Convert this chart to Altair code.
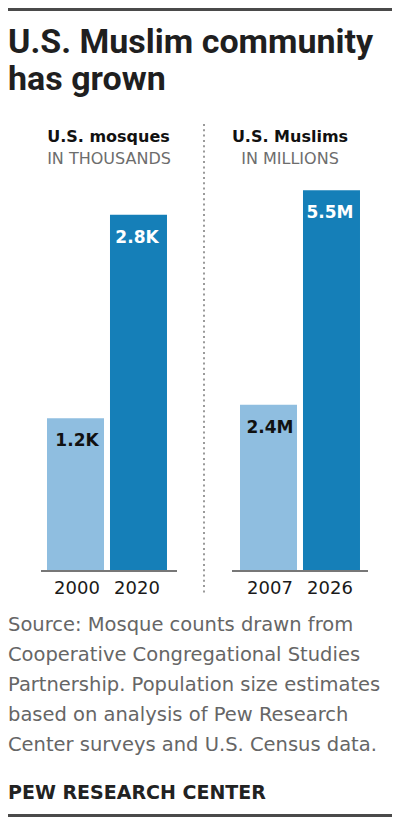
import altair as alt
import pandas as pd

# ---- data -------------------------------------------------------------
TITLE_LINES = ["U.S. Muslim community", "has grown"]

MOSQUE_YEARS = ["2000", "2020"]
MOSQUE_VALUES = [1.2, 2.8]          # thousands
MOSQUE_LABELS = ["1.2K", "2.8K"]

MUSLIM_YEARS = ["2007", "2026"]
MUSLIM_VALUES = [2.4, 5.5]          # millions
MUSLIM_LABELS = ["2.4M", "5.5M"]

SHADES = ["light", "dark"]

PANEL1_HEAD = ["U.S. mosques", "IN THOUSANDS"]
PANEL2_HEAD = ["U.S. Muslims", "IN MILLIONS"]

SOURCE_LINES = [
    "Source: Mosque counts drawn from",
    "Cooperative Congregational Studies",
    "Partnership. Population size estimates",
    "based on analysis of Pew Research",
    "Center surveys and U.S. Census data.",
]
CREDIT = "PEW RESEARCH CENTER"

# ---- styling ----------------------------------------------------------
LIGHT = "#8FBEE0"
DARK = "#157FB8"
FONT = "DejaVu Sans"
W, H = 384, 810
BASE = 563

mosques = pd.DataFrame({"year": MOSQUE_YEARS, "value": MOSQUE_VALUES,
                        "label": MOSQUE_LABELS, "shade": SHADES})
muslims = pd.DataFrame({"year": MUSLIM_YEARS, "value": MUSLIM_VALUES,
                        "label": MUSLIM_LABELS, "shade": SHADES})
dummy = pd.DataFrame({"d": [0]})

color_scale = alt.Scale(domain=SHADES, range=[LIGHT, DARK])


def panel(df, x_range, y_domain, y_top):
    xs = alt.X("year:N", axis=None,
               scale=alt.Scale(range=x_range, paddingInner=0.095, paddingOuter=0))
    ys = alt.Y("value:Q", axis=None,
               scale=alt.Scale(domain=y_domain, range=[BASE, y_top], nice=False, zero=True))
    bars = alt.Chart(df).mark_bar(size=57).encode(
        x=xs, y=ys,
        color=alt.Color("shade:N", scale=color_scale, legend=None),
    )
    vals = alt.Chart(df).mark_text(
        dy=28, baseline="alphabetic", align="center", font=FONT,
        fontSize=17, fontWeight="bold",
    ).encode(
        x=xs, y=ys, text="label:N",
        color=alt.condition(alt.datum.shade == "dark", alt.value("#ffffff"), alt.value("#111111")),
    )
    years = alt.Chart(df).mark_text(
        baseline="alphabetic", align="center", font=FONT, fontSize=18, color="#1a1a1a",
    ).encode(x=xs, y=alt.value(585.5), text="year:N")
    return [bars, vals, years]


p1 = panel(mosques, [39, 159], [0, 4], BASE - 4 * 127.2)
p2 = panel(muslims, [232, 352], [0, 8], BASE - 8 * 69.25)


def txt(text, x, y, size, weight="normal", color="#222222", align="left", font=FONT, lh=None):
    kw = dict(text=text, baseline="alphabetic", align=align, font=font,
              fontSize=size, fontWeight=weight, color=color)
    if lh is not None:
        kw["lineHeight"] = lh
    return alt.Chart(dummy).mark_text(**kw).encode(x=alt.value(x), y=alt.value(y))


def rule(x, x2, y, y2, color, width, dash=None):
    kw = dict(color=color, strokeWidth=width)
    if dash:
        kw["strokeDash"] = dash
    return alt.Chart(dummy).mark_rule(**kw).encode(
        x=alt.value(x), x2=alt.value(x2), y=alt.value(y), y2=alt.value(y2))


annotations = [
    rule(0, W, 1.5, 1.5, "#4a4a4a", 3),
    txt(TITLE_LINES, 0, 44.7, 34, "bold", "#1f1f1f", font="Roboto", lh=37.3),
    txt(PANEL1_HEAD[0], 100.5, 134, 16, "bold", "#111111", "center"),
    txt(PANEL1_HEAD[1], 101, 156.3, 16, "normal", "#6d6d6d", "center"),
    txt(PANEL2_HEAD[0], 282, 134, 16, "bold", "#111111", "center"),
    txt(PANEL2_HEAD[1], 282, 156.3, 16, "normal", "#6d6d6d", "center"),
    rule(196, 196, 116, 587, "#9a9a9a", 2, [2, 3.3]),
    rule(33, 169, BASE, BASE, "#777777", 2),
    rule(224, 360, BASE, BASE, "#777777", 2),
    txt(SOURCE_LINES, 0, 622.7, 19.5, "normal", "#666666", lh=30),
    txt(CREDIT, 0, 791, 19, "bold", "#222222"),
    rule(0, W, 807.5, 807.5, "#4a4a4a", 3),
]

chart = alt.layer(*(p1 + p2 + annotations)).resolve_scale(
    x="independent", y="independent", color="independent"
).properties(
    width=W, height=H, padding=0,
    autosize=alt.AutoSizeParams(type="none"),
).configure_view(stroke=None)

chart.save("out.html", embed_options={"renderer": "svg", "actions": False})
